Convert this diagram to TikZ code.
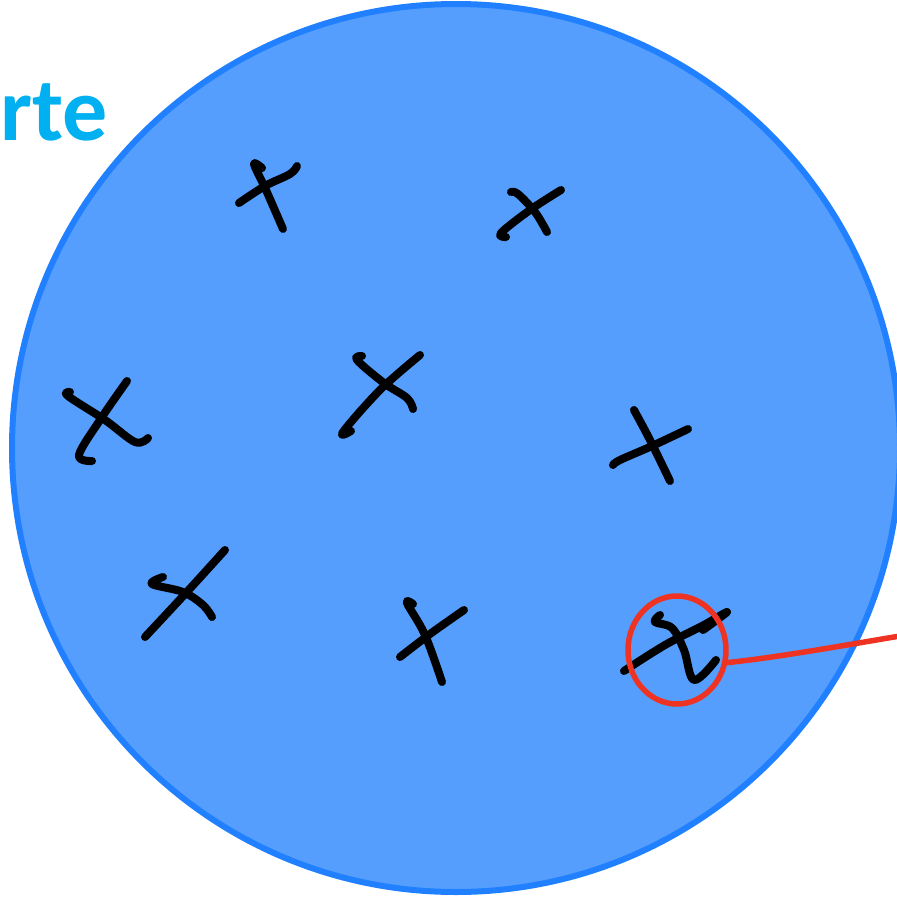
\documentclass[tikz,border=0pt]{standalone}
\usepackage{fontspec}
\setmainfont{Carlito}
\usepackage{tikz}
\usetikzlibrary{shapes.geometric}
\definecolor{disk}{HTML}{559EFD}
\definecolor{rim}{HTML}{2080FF}
\definecolor{marker}{HTML}{EE3322}
\definecolor{heading}{HTML}{00B0F0}

\begin{document}
\begin{tikzpicture}[x=1pt, y=-1pt,
  pen/.style={line width=8pt, line cap=round, line join=round},
  ring/.style={draw=marker, line width=5.5pt, ellipse, minimum width=98pt,
               minimum height=108pt, inner sep=0pt}]
\useasboundingbox (0,0) rectangle (897,900);
\clip (0,0) rectangle (897,900);
\node[circle, draw=rim, fill=disk, line width=6pt, minimum size=888pt, inner sep=0pt] (area) at (456,448) {};
% the crosses, one pair of strokes each
\draw[pen] plot[smooth, tension=0.6] coordinates {(239,203) (265,186) (290,174) (297,166)};
\draw[pen] plot[smooth, tension=0.6] coordinates {(262,168) (254,164) (266,190) (283,229)};
\draw[pen] plot[smooth, tension=0.6] coordinates {(506,237) (501,233) (530,210) (561,190)};
\draw[pen] plot[smooth, tension=0.6] coordinates {(511,192) (518,194) (535,212) (547,232)};
\draw[pen] plot[smooth, tension=0.6] coordinates {(351,431) (343,432) (380,390) (420,355)};
\draw[pen] plot[smooth, tension=0.6] coordinates {(362,356) (357,360) (384,383) (407,398) (413,409)};
\draw[pen] plot[smooth, tension=0.6] coordinates {(127,381) (100,420) (79,455) (92,461)};
\draw[pen] plot[smooth, tension=0.6] coordinates {(70,392) (68,396) (105,420) (135,442) (148,438)};
\draw[pen] plot[smooth, tension=0.6] coordinates {(613,465) (620,460) (652,446) (688,429)};
\draw[pen] plot[smooth, tension=0.6] coordinates {(634,410) (650,440) (670,481)};
\draw[pen] plot[smooth, tension=0.6] coordinates {(145,637) (185,594) (225,550)};
\draw[pen] plot[smooth, tension=0.6] coordinates {(163,577) (152,584) (183,592) (203,605) (212,617)};
\draw[pen] plot[smooth, tension=0.6] coordinates {(400,657) (430,634) (464,610)};
\draw[pen] plot[smooth, tension=0.6] coordinates {(413,604) (407,603) (425,635) (442,682)};
\draw[pen] plot[smooth, tension=0.6] coordinates {(624,671) (665,645) (702,626) (727,612) (703,630)};
\draw[pen] plot[smooth, tension=0.6] coordinates {(660,615) (655,622) (672,628) (684,650) (694,680) (716,660)};
% marked cross
\node[ring] (pick) at (677,650) {};
\coordinate (edge) at (900,636);
\draw[marker, line width=5.5pt, line cap=round] (pick.-14) .. controls (780,657) and (840,646) .. (edge);
\node[anchor=base west, inner sep=0pt, text=heading, font=\bfseries\fontsize{90}{90}\selectfont] (title) at (0,140) {rte};
\end{tikzpicture}
\end{document}
